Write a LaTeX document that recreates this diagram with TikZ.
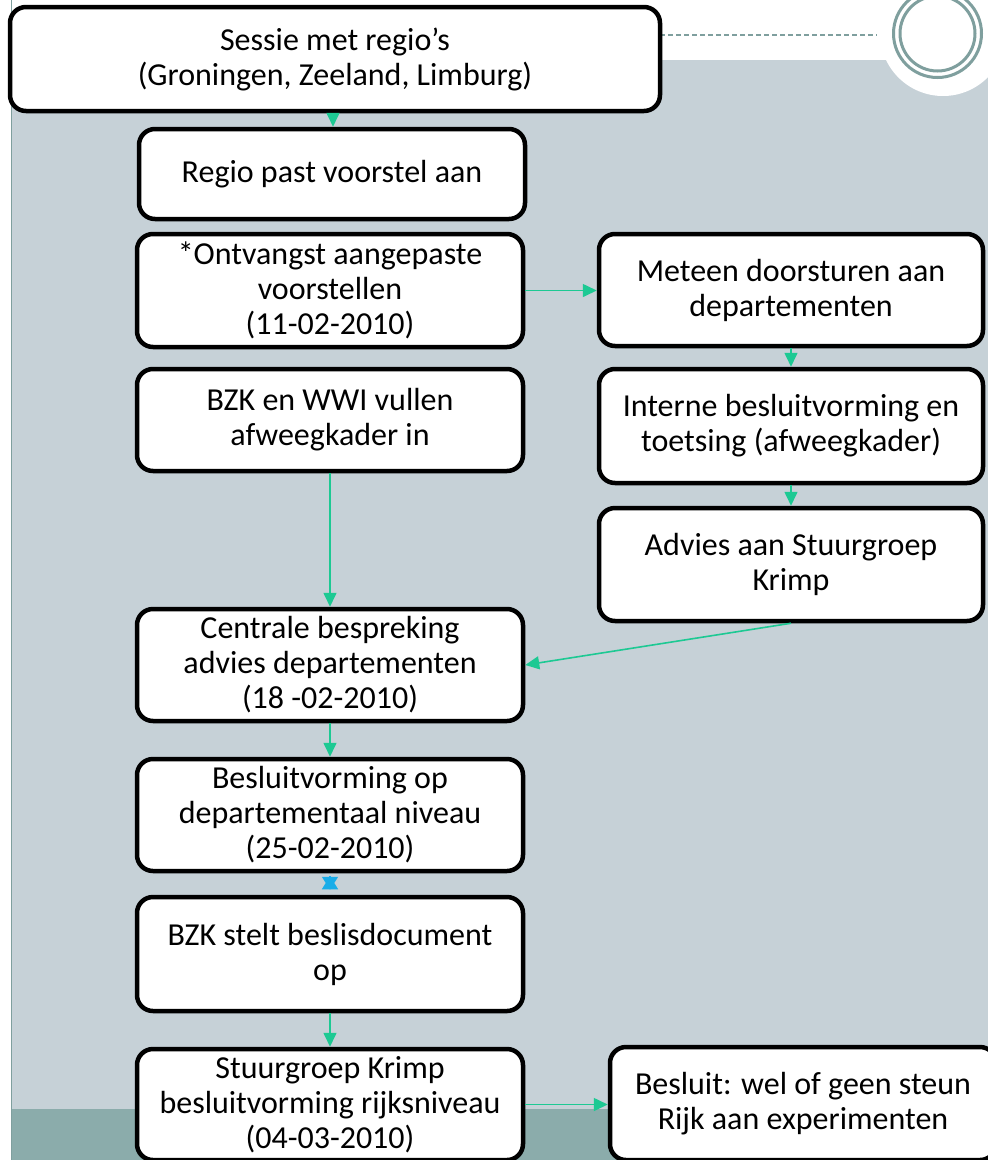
\documentclass[tikz,border=0pt]{standalone}
\usepackage{fontspec}
\setmainfont{Carlito}
\usetikzlibrary{arrows.meta}
\definecolor{bglight}{HTML}{C6D1D7}
\definecolor{bgdark}{HTML}{8BACAB}
\definecolor{ringcol}{HTML}{7F9F9E}
\definecolor{arrgreen}{HTML}{1DC993}
\definecolor{arrblue}{HTML}{1AADE8}
\tikzset{
  flowbox/.style={draw=black, line width=4.5pt, fill=white, rounded corners=16pt,
    align=center, inner sep=0pt, font=\fontsize{32}{35}\selectfont},
  garrow/.style={draw=arrgreen, line width=1.6pt, -{Triangle[length=14pt,width=13pt]}},
  barrow/.style={draw=arrblue, line width=1.6pt, -{Triangle[length=13pt,width=16pt]}},
}
\begin{document}
\begin{tikzpicture}[x=1pt,y=-1pt]
\useasboundingbox (0,0) rectangle (988,1160);
\clip (0,0) rectangle (988,1160);
% background
\fill[white] (0,0) rectangle (988,1160);
\fill[bglight] (12,60) rectangle (988,1109);
\fill[bgdark] (12,1109) rectangle (988,1160);
\draw[ringcol, line width=1.5pt] (11.5,0) -- (11.5,1160);
\fill[white] (943,33) circle (63);
\draw[ringcol, line width=3pt] (937.5,33.5) circle (44);
\draw[ringcol, line width=3pt] (937.5,33.5) circle (37.5);
\draw[ringcol, line width=1.5pt, dash pattern=on 5pt off 3pt] (660,35) -- (877,35);
% boxes
\node[flowbox, minimum width=650pt, minimum height=104pt] (top) at (335,59)
  {Sessie met regio’s\\(Groningen, Zeeland, Limburg)};
\node[flowbox, minimum width=386pt, minimum height=90pt] (regio) at (332,174)
  {Regio past voorstel aan};
\node[flowbox, minimum width=386pt, minimum height=113pt] (ontv) at (330,290.5)
  {*Ontvangst aangepaste\\voorstellen\\(11-02-2010)};
\node[flowbox, minimum width=384pt, minimum height=112pt] (meteen) at (791,290)
  {Meteen doorsturen aan\\departementen};
\node[flowbox, minimum width=386pt, minimum height=102pt] (bzkwwi) at (330,420)
  {BZK en WWI vullen\\afweegkader in};
\node[flowbox, minimum width=384pt, minimum height=114pt] (interne) at (791,426)
  {Interne besluitvorming en\\toetsing (afweegkader)};
\node[flowbox, minimum width=384pt, minimum height=113pt] (advies) at (791,564.5)
  {Advies aan Stuurgroep\\Krimp};
\node[flowbox, minimum width=386pt, minimum height=112pt] (centrale) at (330,665)
  {Centrale bespreking\\advies departementen\\(18 -02-2010)};
\node[flowbox, minimum width=386pt, minimum height=112pt] (besluitv) at (330,815)
  {Besluitvorming op\\departementaal niveau\\(25-02-2010)};
\node[flowbox, minimum width=386pt, minimum height=114pt] (bzkstelt) at (330,954)
  {BZK stelt beslisdocument\\op};
\node[flowbox, minimum width=386pt, minimum height=111pt] (stuur) at (330,1104.5)
  {Stuurgroep Krimp\\besluitvorming rijksniveau\\(04-03-2010)};
\node[flowbox, minimum width=386pt, minimum height=113pt] (besluit) at (803,1103.5)
  {Besluit: wel of geen steun\\Rijk aan experimenten};
% connectors
\draw[garrow] ([xshift=1pt]regio.north |- top.south) -- ([xshift=1pt]regio.north);
\draw[garrow] (ontv.east) -- (ontv.east -| meteen.west);
\draw[garrow] (meteen.south) -- (interne.north);
\draw[garrow] (interne.south) -- (advies.north);
\draw[garrow] (bzkwwi.south) -- (centrale.north);
\draw[garrow] (advies.south) -- (centrale.east);
\draw[garrow] (centrale.south) -- (besluitv.north);
\draw[barrow] ([yshift=-3pt]besluitv.south) -- ([yshift=5pt]bzkstelt.north);
\draw[barrow] ([yshift=9pt]bzkstelt.north) -- ([yshift=-3pt]besluitv.south);
\draw[garrow] (bzkstelt.south) -- (stuur.north);
\draw[garrow] (stuur.east) -- (stuur.east -| besluit.west);
\end{tikzpicture}
\end{document}
